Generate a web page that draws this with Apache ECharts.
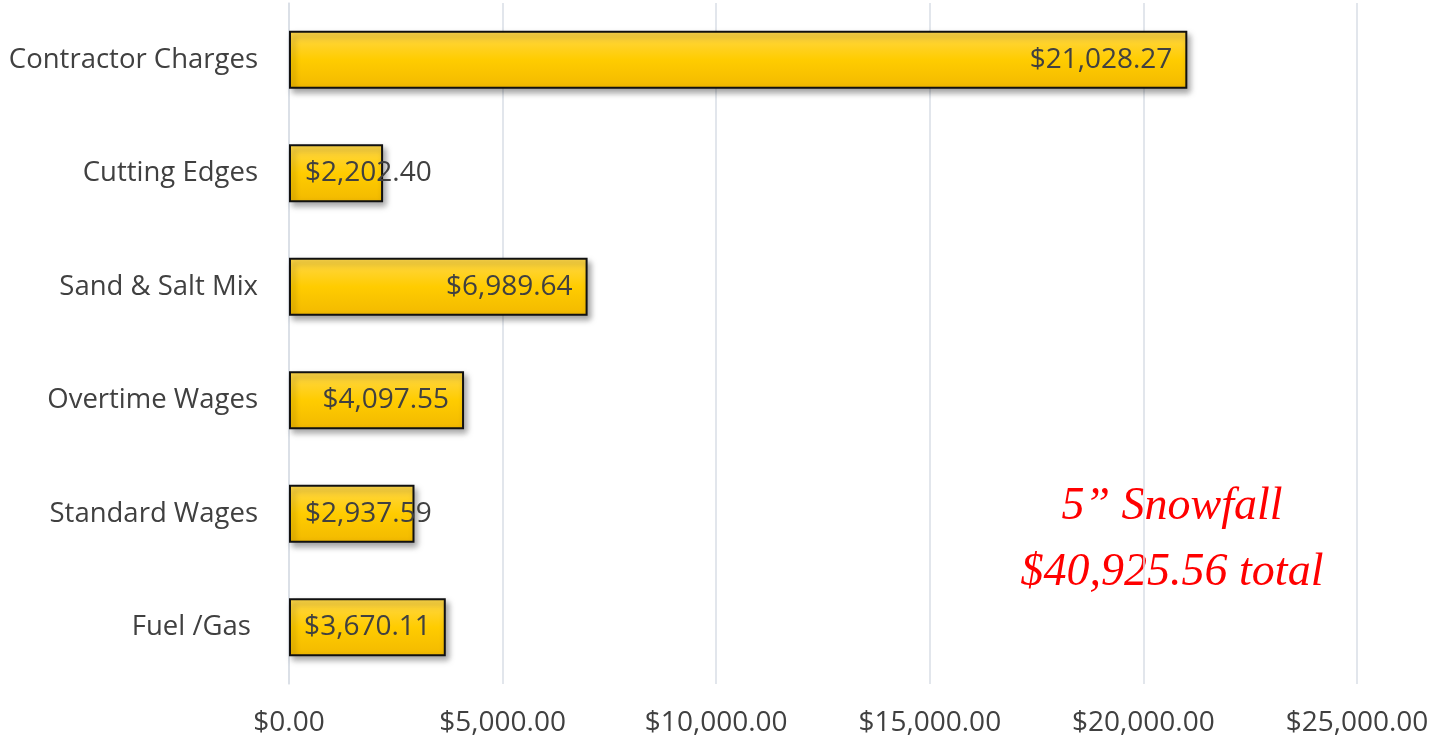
<!DOCTYPE html>
<html><head><meta charset="utf-8">
<script src="https://cdn.jsdelivr.net/npm/echarts@6/dist/echarts.min.js"></script>
<style>html,body{margin:0;padding:0;background:#fff}#c{width:1449px;height:746px}</style>
</head><body><div id="c"></div>
<script>
const categories = ["Contractor Charges", "Cutting Edges", "Sand & Salt Mix", "Overtime Wages", "Standard Wages", "Fuel /Gas "];
const costs = [21028.27, 2202.40, 6989.64, 4097.55, 2937.59, 3670.11];
const xTicks = [0, 5000, 10000, 15000, 20000, 25000];
const noteLines = ["5\u201D Snowfall", "$40,925.56 total"];
const insideLeftLabels = ["Cutting Edges", "Standard Wages"];

const fmt = v => '$' + v.toLocaleString('en-US', {minimumFractionDigits: 2, maximumFractionDigits: 2});
const font = '"Open Sans", Lato, sans-serif';
const chart = echarts.init(document.getElementById('c'));
const noteFont = 'italic 46px "Liberation Serif", "DejaVu Serif", serif';
chart.setOption({
  animation: false,
  grid: {left: 289, right: 92, top: 3, bottom: 62, containLabel: false},
  xAxis: {
    type: 'value', min: xTicks[0], max: xTicks[xTicks.length - 1], interval: 5000,
    axisLine: {show: false}, axisTick: {show: false},
    splitLine: {show: true, lineStyle: {color: '#D9DEE6', width: 1.5}},
    axisLabel: {formatter: v => fmt(v), color: '#404040', fontSize: 28, fontFamily: font, margin: 25}
  },
  yAxis: {
    type: 'category', data: categories, inverse: true,
    axisLine: {show: true, lineStyle: {color: '#D9DEE6', width: 1.5}}, axisTick: {show: false},
    axisLabel: {color: '#404040', fontSize: 27.5, fontFamily: font, margin: 31, padding: [3, 0, 0, 0]}
  },
  series: [{
    type: 'bar', barWidth: '51%',
    data: costs.map((v, i) => {
      const d = {value: v};
      if (insideLeftLabels.includes(categories[i])) d.label = {position: 'insideLeft', distance: 16};
      return d;
    }),
    itemStyle: {
      color: new echarts.graphic.LinearGradient(0, 0, 0, 1, [
        {offset: 0, color: '#FFD84D'}, {offset: 0.5, color: '#FFCC00'}, {offset: 1, color: '#F2B900'}
      ]),
      borderColor: '#111', borderWidth: 2,
      shadowColor: 'rgba(0,0,0,0.35)', shadowBlur: 6, shadowOffsetX: 3, shadowOffsetY: 4
    },
    label: {
      show: true, position: 'insideRight', distance: 15, formatter: p => fmt(p.value),
      color: '#404040', fontSize: 28, fontFamily: font, padding: [3, 0, 0, 0]
    }
  }],
  graphic: noteLines.map((t, i) => ({
    type: 'text', x: 1172, y: 507 + i * 66,
    style: {text: t, fill: '#FF0000', textAlign: 'center', textVerticalAlign: 'middle', font: noteFont}
  }))
});
</script></body></html>
